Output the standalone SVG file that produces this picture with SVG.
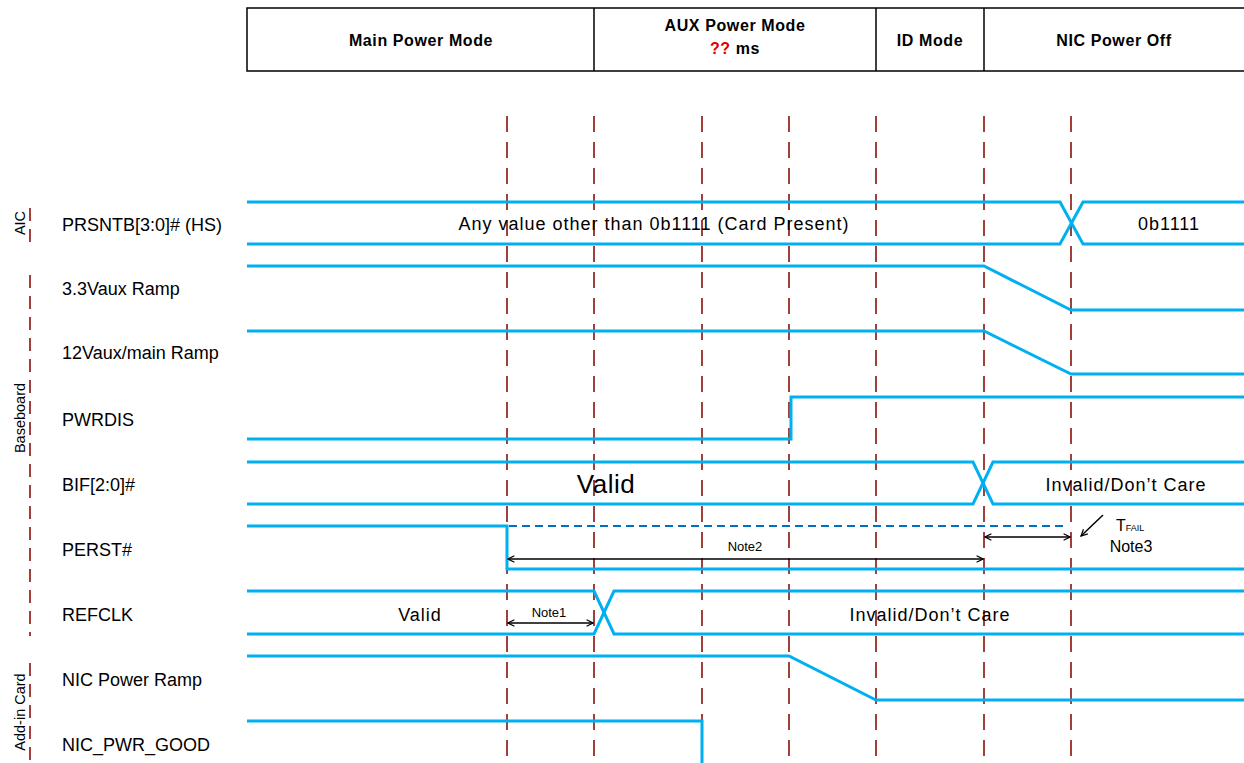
<svg xmlns="http://www.w3.org/2000/svg" width="1244" height="763" viewBox="0 0 1244 763">
<defs>
<style>
.hdr{font-family:"Liberation Sans",Arial,sans-serif;font-size:16px;font-weight:bold;fill:#000;text-anchor:middle;letter-spacing:0.6px}
.lbl{font-family:"Liberation Sans",Arial,sans-serif;font-size:18px;fill:#000}
.grp{font-family:"Liberation Sans",Arial,sans-serif;font-size:14.5px;fill:#000;text-anchor:middle}
.val{font-family:"Liberation Sans",Arial,sans-serif;font-size:18px;fill:#000;text-anchor:middle;letter-spacing:1px}
.note{font-family:"Liberation Sans",Arial,sans-serif;font-size:13px;fill:#000;text-anchor:middle}
.sig{fill:none;stroke:#00b0f0;stroke-width:3;stroke-linejoin:miter}
.vd{stroke:#a0403a;stroke-width:2;stroke-dasharray:16 10}
.gd{stroke:#a0403a;stroke-width:2;stroke-dasharray:13 8}
.arr{stroke:#000;stroke-width:1.5;fill:none}
</style>
<marker id="ah" viewBox="0 0 10 10" refX="9" refY="5" markerWidth="8" markerHeight="8" markerUnits="userSpaceOnUse" orient="auto-start-reverse">
<path d="M1,1 L9,5 L1,9" fill="none" stroke="#000" stroke-width="1.5"/>
</marker>
</defs>
<rect width="1244" height="763" fill="#fff"/>

<g id="header">
<rect x="247" y="8" width="1010" height="63" fill="#fff" stroke="#000" stroke-width="1.5"/>
<line x1="594" y1="8" x2="594" y2="71" stroke="#000" stroke-width="1.5"/>
<line x1="876" y1="8" x2="876" y2="71" stroke="#000" stroke-width="1.5"/>
<line x1="984" y1="8" x2="984" y2="71" stroke="#000" stroke-width="1.5"/>
<text class="hdr" x="421" y="46">Main Power Mode</text>
<text class="hdr" x="735" y="31">AUX Power Mode</text>
<text class="hdr" x="735" y="54"><tspan fill="#e00000">??</tspan> ms</text>
<text class="hdr" x="930" y="46">ID Mode</text>
<text class="hdr" x="1114" y="46">NIC Power Off</text>
</g>

<g id="timelines">
<line class="vd" x1="507" y1="116" x2="507" y2="763"/>
<line class="vd" x1="594" y1="116" x2="594" y2="763"/>
<line class="vd" x1="702" y1="116" x2="702" y2="763"/>
<line class="vd" x1="789" y1="116" x2="789" y2="763"/>
<line class="vd" x1="876" y1="116" x2="876" y2="763"/>
<line class="vd" x1="984" y1="116" x2="984" y2="763"/>
<line class="vd" x1="1071" y1="116" x2="1071" y2="763"/>
</g>

<g id="groups">
<line class="gd" x1="30" y1="208" x2="30" y2="244"/>
<line class="gd" x1="30" y1="275" x2="30" y2="636"/>
<line class="gd" x1="30" y1="663" x2="30" y2="763"/>
<text class="grp" transform="translate(25,223) rotate(-90)">AIC</text>
<text class="grp" transform="translate(25,418) rotate(-90)">Baseboard</text>
<text class="grp" transform="translate(25,712) rotate(-90)">Add-in Card</text>
</g>

<g id="labels">
<text class="lbl" x="62" y="231">PRSNTB[3:0]# (HS)</text>
<text class="lbl" x="62" y="295">3.3Vaux Ramp</text>
<text class="lbl" x="62" y="359">12Vaux/main Ramp</text>
<text class="lbl" x="62" y="426">PWRDIS</text>
<text class="lbl" x="62" y="491">BIF[2:0]#</text>
<text class="lbl" x="62" y="556">PERST#</text>
<text class="lbl" x="62" y="621">REFCLK</text>
<text class="lbl" x="62" y="686">NIC Power Ramp</text>
<text class="lbl" x="62" y="751">NIC_PWR_GOOD</text>
</g>

<g id="sig-prsntb">
<path class="sig" d="M247,202 H1060 L1083,244 H1244"/>
<path class="sig" d="M247,244 H1060 L1083,202 H1244"/>
<text class="val" x="654" y="230">Any value other than 0b1111 (Card Present)</text>
<text class="val" x="1169" y="230">0b1111</text>
</g>

<g id="sig-33vaux">
<path class="sig" d="M247,266 H984 L1071,310 H1244"/>
</g>

<g id="sig-12vaux">
<path class="sig" d="M247,331 H984 L1071,374 H1244"/>
</g>

<g id="sig-pwrdis">
<path class="sig" d="M247,439 H791 V397 H1244"/>
</g>

<g id="sig-bif">
<path class="sig" d="M247,462 H973 L993,504 H1244"/>
<path class="sig" d="M247,504 H973 L993,462 H1244"/>
<text class="val" x="606" y="493" style="font-size:26px;letter-spacing:0.5px">Valid</text>
<text class="val" x="1126" y="491">Invalid/Don’t Care</text>
</g>

<g id="sig-perst">
<path class="sig" d="M247,526 H507 V569 H1244"/>
<line x1="509" y1="526" x2="1068" y2="526" stroke="#0070c0" stroke-width="2" stroke-dasharray="8 5"/>
</g>

<g id="sig-refclk">
<path class="sig" d="M247,591 H594 L614,634 H1244"/>
<path class="sig" d="M247,634 H594 L614,591 H1244"/>
<text class="val" x="420" y="621">Valid</text>
<text class="val" x="930" y="621">Invalid/Don’t Care</text>
</g>

<g id="sig-nicramp">
<path class="sig" d="M247,656 H789 L876,700 H1244"/>
</g>

<g id="sig-nicpg">
<path class="sig" d="M247,721 H702 V766 H1244"/>
</g>

<g id="connectors">
<line class="arr" x1="508" y1="559" x2="983" y2="559" marker-start="url(#ah)" marker-end="url(#ah)"/>
<line class="arr" x1="508" y1="623" x2="593" y2="623" marker-start="url(#ah)" marker-end="url(#ah)"/>
<line class="arr" x1="985" y1="537" x2="1070" y2="537" marker-start="url(#ah)" marker-end="url(#ah)"/>
<line class="arr" x1="1103" y1="515" x2="1081" y2="536" marker-end="url(#ah)"/>
<text class="note" x="745" y="551">Note2</text>
<text class="note" x="549" y="617">Note1</text>
<text class="note" x="1116" y="531" style="text-anchor:start;font-size:16px">T<tspan style="font-size:9px">FAIL</tspan></text>
<text class="note" x="1131" y="552" style="font-size:16px">Note3</text>
</g>
</svg>
